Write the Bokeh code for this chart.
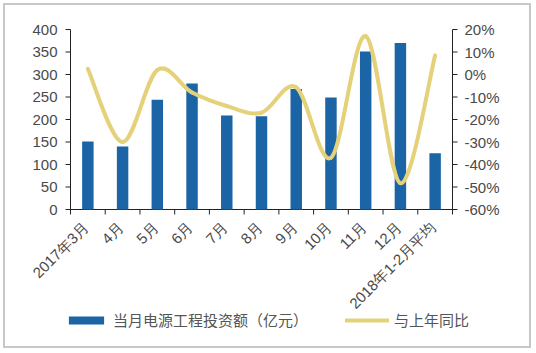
from math import pi
from bokeh.plotting import figure
from bokeh.models import (Range1d, Legend, LegendItem, ColumnDataSource, InlineStyleSheet)
from bokeh.core.properties import value
from bokeh.embed import file_html
from bokeh.resources import INLINE

categories = ["2017年3月", "4月", "5月", "6月", "7月", "8月", "9月", "10月",
              "11月", "12月", "2018年1-2月平均"]
invest = [151, 140, 244, 280, 209, 207, 268, 249, 351, 370, 125]
yoy = [2.5, -30, 2, -8, -14, -17, -5.7, -37, 17, -48.3, 8.5]
left_ticks = [0, 50, 100, 150, 200, 250, 300, 350, 400]
right_ticks = [-60, -50, -40, -30, -20, -10, 0, 10, 20]
right_labels = [f"{v}%" for v in right_ticks]
left_labels = [str(v) for v in left_ticks]

bar_label = "当月电源工程投资额（亿元）"
line_label = "与上年同比"

BAR = "#1B64A6"
LINE = "#E4D17A"
TXT = "#4a4a4a"
AX = "#222222"
FONT = "Liberation Sans"

# page / plot-area geometry (pixels)
W, H = 536, 353
AREA_L, AREA_R, AREA_T, AREA_B = 70, 452, 29, 209
TICK = 5

n = len(categories)
xs = list(range(n))
cat_px = (AREA_R - AREA_L) / n
lpx = (AREA_B - AREA_T) / (left_ticks[-1] - left_ticks[0])
rpx = (AREA_B - AREA_T) / (right_ticks[-1] - right_ticks[0])

x_range = Range1d(-0.5 - AREA_L / cat_px, n - 0.5 + (W - AREA_R) / cat_px)
y_range = Range1d(left_ticks[0] - (H - AREA_B) / lpx, left_ticks[-1] + AREA_T / lpx)
yoy_range = Range1d(right_ticks[0] - (H - AREA_B) / rpx, right_ticks[-1] + AREA_T / rpx)

p = figure(width=W, height=H, output_backend="svg", toolbar_location=None,
           x_range=x_range, y_range=y_range, x_axis_location=None, y_axis_location=None,
           min_border=0)
p.extra_y_ranges = {"yoy": yoy_range}
p.xgrid.visible = False
p.ygrid.visible = False
p.outline_line_color = None
p.background_fill_color = "white"
p.border_fill_color = "white"
p.stylesheets = [InlineStyleSheet(css=":host::after { content: ''; position: absolute; "
                                  "left: 3px; top: 3px; width: 528px; height: 345px; "
                                  "border: 2px solid #c8c8c8; box-sizing: border-box; "
                                  "pointer-events: none; }")]

x_left = -0.5
x_right = n - 0.5

# left value axis
p.segment(x0=[x_left], y0=[left_ticks[0]], x1=[x_left], y1=[left_ticks[-1]],
          line_color=AX, line_width=1)
p.segment(x0=[x_left] * len(left_ticks), y0=left_ticks,
          x1=[x_left - TICK / cat_px] * len(left_ticks), y1=left_ticks,
          line_color=AX, line_width=1)
p.text(x=[x_left] * len(left_ticks), y=left_ticks, text=left_labels, x_offset=-13,
       text_align="right", text_baseline="middle", text_font=value(FONT),
       text_font_size="15px", text_color=TXT)

# right value axis (year-on-year %)
p.segment(x0=[x_right], y0=[right_ticks[0]], x1=[x_right], y1=[right_ticks[-1]],
          y_range_name="yoy", line_color=AX, line_width=1)
p.segment(x0=[x_right] * len(right_ticks), y0=right_ticks,
          x1=[x_right + TICK / cat_px] * len(right_ticks), y1=right_ticks,
          y_range_name="yoy", line_color=AX, line_width=1)
p.text(x=[x_right] * len(right_ticks), y=right_ticks, text=right_labels, x_offset=12,
       y_range_name="yoy", text_align="left", text_baseline="middle",
       text_font=value(FONT), text_font_size="15px", text_color=TXT)

# category axis: baseline, boundary ticks and rotated labels
bounds_x = [i - 0.5 for i in range(n + 1)]
p.segment(x0=[bounds_x[0]], y0=[left_ticks[0]], x1=[bounds_x[-1]], y1=[left_ticks[0]],
          line_color=AX, line_width=1)
p.segment(x0=bounds_x, y0=[left_ticks[0]] * len(bounds_x), x1=bounds_x,
          y1=[left_ticks[0] - TICK / lpx] * len(bounds_x), line_color=AX, line_width=1)
p.text(x=xs, y=[left_ticks[0]] * n, text=categories, angle=pi / 4,
       text_align="right", text_baseline="middle", x_offset=-2, y_offset=15,
       text_font=value(FONT), text_font_size="15px", text_color=TXT)

bars = p.vbar(x=xs, top=invest, bottom=0, width=0.33, fill_color=BAR, line_color=None)

# smoothed line (Catmull-Rom as cubic Bezier segments through the data points)
x0, y0, x1, y1, cx0, cy0, cx1, cy1 = [], [], [], [], [], [], [], []
for i in range(n - 1):
    pa = (xs[max(i - 1, 0)], yoy[max(i - 1, 0)])
    pb = (xs[i], yoy[i])
    pc = (xs[i + 1], yoy[i + 1])
    pd = (xs[min(i + 2, n - 1)], yoy[min(i + 2, n - 1)])
    x0.append(pb[0]); y0.append(pb[1]); x1.append(pc[0]); y1.append(pc[1])
    cx0.append(pb[0] + (pc[0] - pa[0]) / 6); cy0.append(pb[1] + (pc[1] - pa[1]) / 6)
    cx1.append(pc[0] - (pd[0] - pb[0]) / 6); cy1.append(pc[1] - (pd[1] - pb[1]) / 6)
src = ColumnDataSource(dict(x0=x0, y0=y0, x1=x1, y1=y1, cx0=cx0, cy0=cy0, cx1=cx1, cy1=cy1))
curve = p.bezier(x0="x0", y0="y0", x1="x1", y1="y1", cx0="cx0", cy0="cy0", cx1="cx1", cy1="cy1",
                 source=src, y_range_name="yoy", line_color=LINE, line_width=4, line_cap="round")

legend = Legend(items=[LegendItem(label=bar_label, renderers=[bars]),
                       LegendItem(label=line_label, renderers=[curve])],
                orientation="horizontal", location=(64, 23),
                glyph_width=44, glyph_height=10, spacing=37, padding=0, margin=0,
                label_text_font="Noto Sans CJK SC", label_text_font_size="15px",
                label_text_color="#555555", label_standoff=5,
                border_line_color=None, background_fill_alpha=0)
p.add_layout(legend, "center")

open("out.html", "w").write(file_html(p, INLINE))
